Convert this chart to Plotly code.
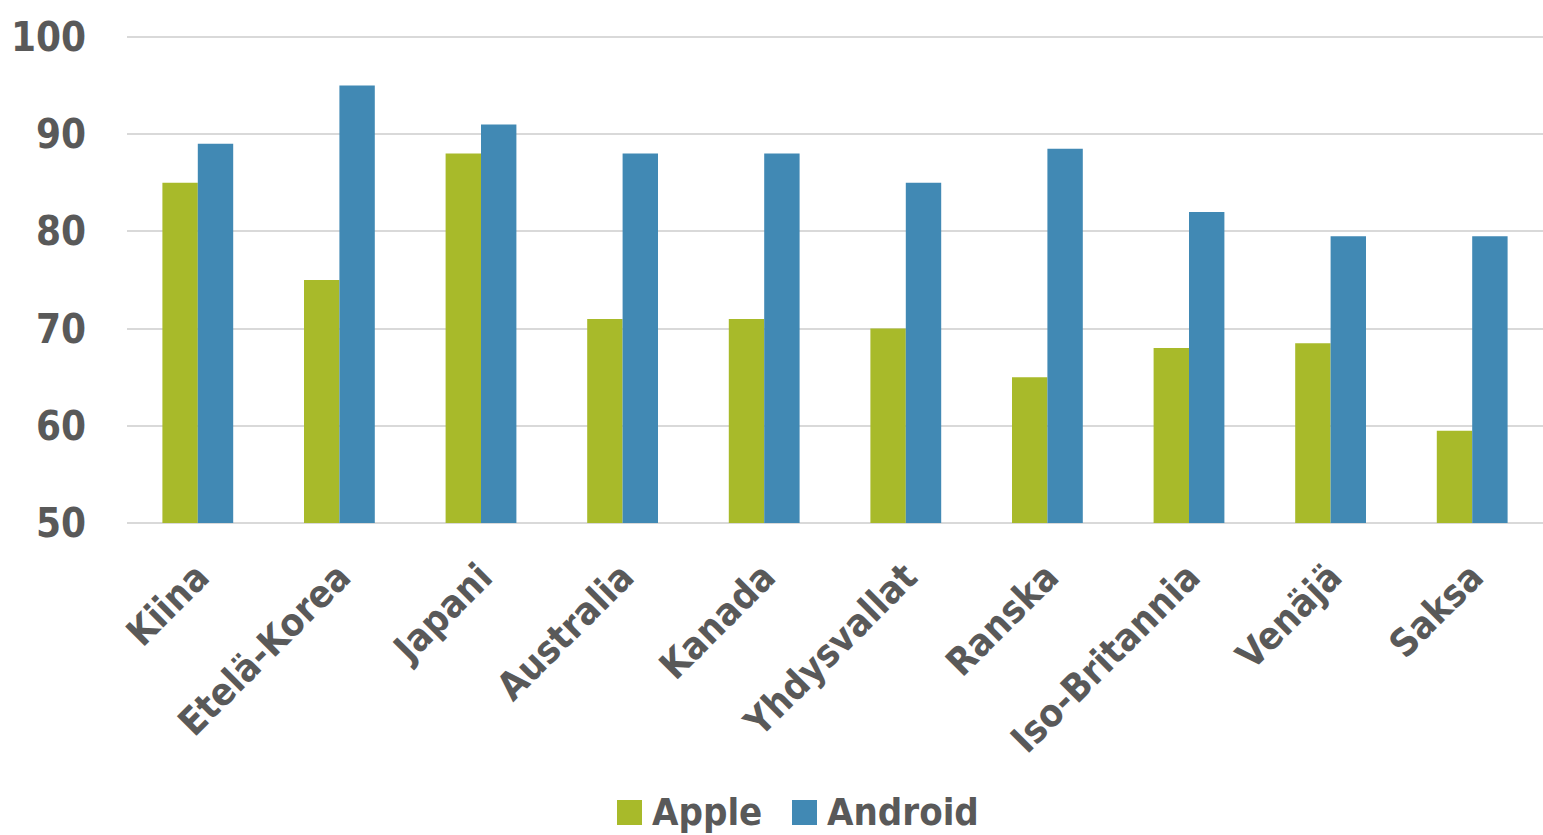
import plotly.graph_objects as go

countries = ["Kiina", "Etelä-Korea", "Japani", "Australia", "Kanada",
             "Yhdysvallat", "Ranska", "Iso-Britannia", "Venäjä", "Saksa"]
apple = [85, 75, 88, 71, 71, 70, 65, 68, 68.5, 59.5]
android = [89, 95, 91, 88, 88, 85, 88.5, 82, 79.5, 79.5]
y_ticks = [50, 60, 70, 80, 90, 100]
series_names = ["Apple", "Android"]
AXIS_MIN = 50

APPLE_C = "#A8BA2A"
ANDROID_C = "#4189B4"
TEXT_C = "#595959"
FONT = "Liberation Sans Narrow, DejaVu Sans Condensed, Arial Narrow, sans-serif"

W, H = 1543, 835
ML, MR, MT, MB = 127, 0, 33, 308

fig = go.Figure()
fig.add_trace(go.Bar(x=countries, y=[v - AXIS_MIN for v in apple], base=AXIS_MIN,
                     name=series_names[0], customdata=apple,
                     hovertemplate="%{x}: %{customdata}<extra>Apple</extra>",
                     marker=dict(color=APPLE_C, line=dict(width=0)), showlegend=False))
fig.add_trace(go.Bar(x=countries, y=[v - AXIS_MIN for v in android], base=AXIS_MIN,
                     name=series_names[1], customdata=android,
                     hovertemplate="%{x}: %{customdata}<extra>Android</extra>",
                     marker=dict(color=ANDROID_C, line=dict(width=0)), showlegend=False))

fig.update_layout(
    width=W, height=H,
    margin=dict(l=ML, r=MR, t=MT, b=MB, pad=0, autoexpand=False),
    paper_bgcolor="white", plot_bgcolor="white",
    barmode="group", bargap=0.5, bargroupgap=0,
    font=dict(family=FONT, color=TEXT_C, size=40, weight="bold"),
    showlegend=False,
)
fig.update_xaxes(tickangle=-45, showgrid=False, showline=False, ticks="",
                 automargin=False, ticklabelstandoff=19,
                 tickfont=dict(size=38, family=FONT, color=TEXT_C, weight="bold"),
                 fixedrange=True)
fig.update_yaxes(range=[49.6, 100.4], tickvals=y_ticks, showgrid=True,
                 gridcolor="#D9D9D9", gridwidth=2, zeroline=False, showline=False,
                 ticks="", ticklabelstandoff=40, automargin=False,
                 tickfont=dict(size=40, family=FONT, color=TEXT_C, weight="bold"),
                 fixedrange=True)

# custom legend (large square swatches like the original)
pw, ph = W - ML - MR, H - MT - MB
def px_x(p):
    return (p - ML) / pw
def px_y(p):
    return (H - MB - p) / ph

legend_items = [(series_names[0], APPLE_C, 617), (series_names[1], ANDROID_C, 792)]
for name, col, x0 in legend_items:
    fig.add_shape(type="rect", xref="paper", yref="paper",
                  x0=px_x(x0), x1=px_x(x0 + 25), y0=px_y(825), y1=px_y(800),
                  fillcolor=col, line=dict(width=0))
    fig.add_annotation(xref="paper", yref="paper", x=px_x(x0 + 33), y=px_y(812),
                       xanchor="left", yanchor="middle", text=name, showarrow=False,
                       font=dict(size=38, family=FONT, color=TEXT_C, weight="bold"))

fig.write_html("out.html")
